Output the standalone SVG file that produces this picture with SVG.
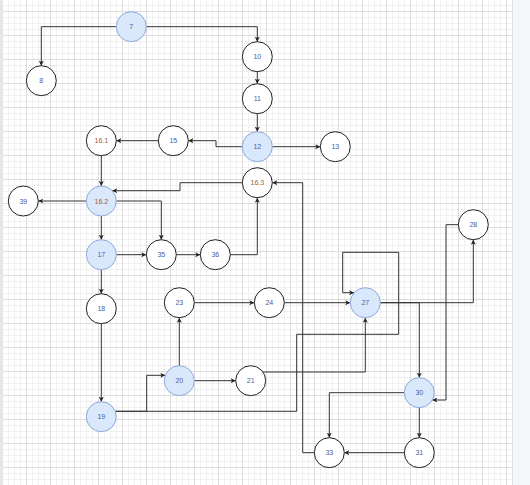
<svg xmlns="http://www.w3.org/2000/svg" width="530" height="485" viewBox="0 0 530 485">
<defs>
<pattern id="grid" x="2" y="11" width="24" height="24" patternUnits="userSpaceOnUse">
<path d="M6.5,0 V24 M12.5,0 V24 M18.5,0 V24 M0,6.5 H24 M0,12.5 H24 M0,18.5 H24" stroke="#f0f0f0" stroke-width="1" fill="none"/>
<path d="M0.5,0 V24 M0,0.5 H24" stroke="#dddddd" stroke-width="1" fill="none"/>
</pattern>
<marker id="arr" markerUnits="userSpaceOnUse" markerWidth="7" markerHeight="7" refX="5" refY="2.5" orient="auto">
<path d="M0,0 L5,2.5 L0,5 L1.3,2.5 Z" fill="#222"/>
</marker>
<style>
.e{fill:none;stroke:#333;stroke-width:1;marker-end:url(#arr)}
.w{fill:#ffffff;stroke:#222;stroke-width:1}
.b{fill:#dae8fc;stroke:#8eaadb;stroke-width:1}
.t{font-family:"Liberation Sans",Arial,sans-serif;font-size:7px;fill:#44619e;text-anchor:middle}
.r{fill:#99603f}
</style>
</defs>
<rect x="0" y="0" width="530" height="485" fill="#ffffff"/>
<rect x="3" y="0" width="509" height="485" fill="url(#grid)"/>
<rect x="0" y="0" width="3" height="485" fill="#e6e6e6"/>
<rect x="512" y="0" width="18" height="485" fill="#f5f6f9"/>
<line x1="512.5" y1="0" x2="512.5" y2="485" stroke="#e0e0e0"/>
<g id="connectors">
<path class="e" d="M116.3,26.7 H41.3 V65.7"/>
<path class="e" d="M146.3,26.7 H257.3 V41.7"/>
<path class="e" d="M257.3,71.7 V83.7"/>
<path class="e" d="M257.3,113.7 V131.7"/>
<path class="e" d="M242.3,146.7 H216 V140.7 H188.3"/>
<path class="e" d="M158.3,140.7 H116.3"/>
<path class="e" d="M272.3,146.7 H320.3"/>
<path class="e" d="M101.3,155.7 V186"/>
<path class="e" d="M242.3,182.7 H180 V190.7 H112.2"/>
<path class="e" d="M86.3,201 H38.3"/>
<path class="e" d="M101.3,216 V239.7"/>
<path class="e" d="M116.3,201 H161.3 V239.7"/>
<path class="e" d="M116.3,254.7 H146.3"/>
<path class="e" d="M176.3,254.7 H200.3"/>
<path class="e" d="M230.3,254.7 H257.3 V197.7"/>
<path class="e" d="M101.3,269.7 V293.7"/>
<path class="e" d="M101.3,323.7 V401.7"/>
<path class="e" d="M115.3,411.3 H146.7 V375.3 H165.3"/>
<path class="e" d="M115.3,411.3 H296.7 V334.3 H398.7 V252.3 H342.7 V292.7 H354.1"/>
<path class="e" d="M179.3,365.7 V317.7"/>
<path class="e" d="M194.3,380.7 H235.7"/>
<path class="e" d="M194.3,302.7 H254.3"/>
<path class="e" d="M284.3,302.7 H350.3"/>
<path class="e" d="M262.9,372 H365.3 V317.7"/>
<path class="e" d="M380.3,302.7 H473.3 V239.7"/>
<path class="e" d="M380.3,302.7 H419.3 V377.7"/>
<path class="e" d="M458.3,224.7 H446 V400 H432.4"/>
<path class="e" d="M404.3,392.7 H329.3 V437.7"/>
<path class="e" d="M419.3,407.7 V437.7"/>
<path class="e" d="M404.3,452.7 H344.3"/>
<path class="e" d="M314.3,452.7 H302.7 V182.7 H272.3"/>
</g>
<g id="n7"><circle class="b" cx="131.3" cy="26.7" r="15"/><text class="t" x="131.3" y="29.2">7</text></g>
<g id="n8"><circle class="w" cx="41.3" cy="80.7" r="15"/><text class="t" x="41.3" y="83.2">8</text></g>
<g id="n10"><circle class="w" cx="257.3" cy="56.7" r="15"/><text class="t" x="257.3" y="59.2">10</text></g>
<g id="n11"><circle class="w" cx="257.3" cy="98.7" r="15"/><text class="t" x="257.3" y="101.2">11</text></g>
<g id="n12"><circle class="b" cx="257.3" cy="146.7" r="15"/><text class="t" x="257.3" y="149.2">12</text></g>
<g id="n13"><circle class="w" cx="335.3" cy="146.7" r="15"/><text class="t" x="335.3" y="149.2">13</text></g>
<g id="n15"><circle class="w" cx="173.3" cy="140.7" r="15"/><text class="t" x="173.3" y="143.2">15</text></g>
<g id="n16_1"><circle class="w" cx="101.3" cy="140.7" r="15"/><text class="t r" x="101.3" y="143.2">16.1</text></g>
<g id="n16_3"><circle class="w" cx="257.3" cy="182.7" r="15"/><text class="t r" x="257.3" y="185.2">16.3</text></g>
<g id="n16_2"><circle class="b" cx="101.3" cy="201" r="15"/><text class="t r" x="101.3" y="203.5">16.2</text></g>
<g id="n39"><circle class="w" cx="23.3" cy="201" r="15"/><text class="t" x="23.3" y="203.5">39</text></g>
<g id="n17"><circle class="b" cx="101.3" cy="254.7" r="15"/><text class="t" x="101.3" y="257.2">17</text></g>
<g id="n35"><circle class="w" cx="161.3" cy="254.7" r="15"/><text class="t" x="161.3" y="257.2">35</text></g>
<g id="n36"><circle class="w" cx="215.3" cy="254.7" r="15"/><text class="t" x="215.3" y="257.2">36</text></g>
<g id="n18"><circle class="w" cx="101.3" cy="308.7" r="15"/><text class="t" x="101.3" y="311.2">18</text></g>
<g id="n23"><circle class="w" cx="179.3" cy="302.7" r="15"/><text class="t" x="179.3" y="305.2">23</text></g>
<g id="n24"><circle class="w" cx="269.3" cy="302.7" r="15"/><text class="t" x="269.3" y="305.2">24</text></g>
<g id="n27"><circle class="b" cx="365.3" cy="302.7" r="15"/><text class="t" x="365.3" y="305.2">27</text></g>
<g id="n28"><circle class="w" cx="473.3" cy="224.7" r="15"/><text class="t" x="473.3" y="227.2">28</text></g>
<g id="n19"><circle class="b" cx="101.3" cy="416.7" r="15"/><text class="t" x="101.3" y="419.2">19</text></g>
<g id="n20"><circle class="b" cx="179.3" cy="380.7" r="15"/><text class="t" x="179.3" y="383.2">20</text></g>
<g id="n21"><circle class="w" cx="250.7" cy="380.7" r="15"/><text class="t" x="250.7" y="383.2">21</text></g>
<g id="n30"><circle class="b" cx="419.3" cy="392.7" r="15"/><text class="t" x="419.3" y="395.2">30</text></g>
<g id="n31"><circle class="w" cx="419.3" cy="452.7" r="15"/><text class="t" x="419.3" y="455.2">31</text></g>
<g id="n33"><circle class="w" cx="329.3" cy="452.7" r="15"/><text class="t" x="329.3" y="455.2">33</text></g>
</svg>
